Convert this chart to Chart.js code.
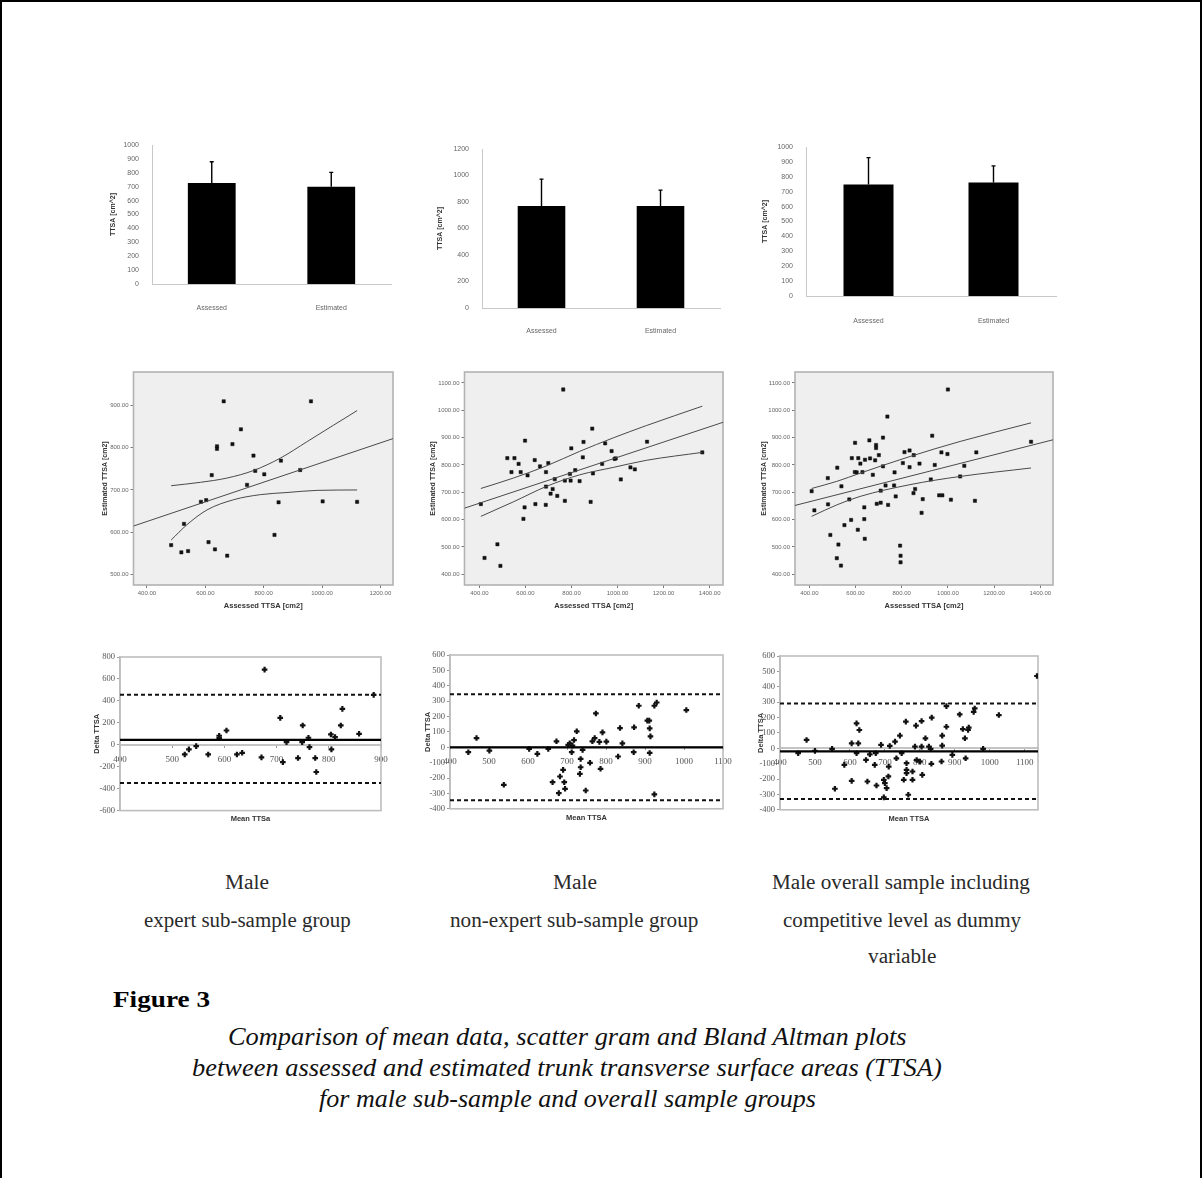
<!DOCTYPE html>
<html>
<head>
<meta charset="utf-8">
<title>Figure 3</title>
<script src="https://cdn.jsdelivr.net/npm/chart.js@4.4.1/dist/chart.umd.min.js"></script>
<style>
  body { margin: 0; background: #fff; width: 1203px; height: 1178px; overflow: hidden; position: relative; }
  #frame { position: absolute; left: 0; top: 0; width: 1198px; height: 1250px; border: 2px solid #000; }
  .panel { position: absolute; }
  .txt { position: absolute; white-space: nowrap; line-height: 24px; transform-origin: left center;
         font-family: "Liberation Serif", serif; color: #2a2a2a; font-size: 20px; }
  .fig { font-weight: bold; font-size: 23px; color: #000; }
  .cap { font-style: italic; font-size: 25px; color: #111; }
</style>
</head>
<body>
<div id="frame"></div>

<div class="txt" data-cx="247" data-w="44" style="top:870px">Male</div>
<div class="txt" data-cx="247.5" data-w="207" style="top:908px">expert sub-sample group</div>
<div class="txt" data-cx="575" data-w="44" style="top:870px">Male</div>
<div class="txt" data-cx="574" data-w="248" style="top:908px">non-expert sub-sample group</div>
<div class="txt" data-cx="901" data-w="258" style="top:870px">Male overall sample including</div>
<div class="txt" data-cx="902" data-w="238" style="top:908px">competitive level as dummy</div>
<div class="txt" data-cx="901.5" data-w="68" style="top:944px">variable</div>

<div class="txt fig" data-left="113" data-w="97" style="top:988px">Figure 3</div>
<div class="txt cap" data-cx="567" data-w="679" style="top:1025px">Comparison of mean data, scatter gram and Bland Altman plots</div>
<div class="txt cap" data-cx="567" data-w="750" style="top:1056px">between assessed and estimated trunk transverse surface areas (TTSA)</div>
<div class="txt cap" data-cx="567" data-w="497" style="top:1087px">for male sub-sample and overall sample groups</div>

<script>
// ---------- mean data (bar charts) ----------
const barLabels = ["Assessed", "Estimated"];
const expertMeans = [727, 700];
const expertSD = [153, 103];
const nonExpertMeans = [769, 769];
const nonExpertSD = [204, 121];
const overallMeans = [748, 761];
const overallSD = [181, 112];
const barTicks1000 = [0, 100, 200, 300, 400, 500, 600, 700, 800, 900, 1000];
const barTicks1200 = [0, 200, 400, 600, 800, 1000, 1200];

// ---------- scatter grams ----------
const expertAssessed = [663, 962, 722, 693, 640, 640, 765, 859, 622, 771, 802, 925, 743, 585, 603, 851, 1002, 1120, 527, 483, 518, 541, 611, 633, 675, 837];
const expertEstimated = [909, 909, 843, 808, 803, 797, 781, 769, 735, 745, 737, 747, 712, 672, 676, 671, 673, 672, 620, 570, 553, 556, 577, 560, 545, 594];
const expertFitX = [354, 1243];
const expertFitY = [615, 821];
const expertUpperX = [483, 583, 674, 766, 857, 949, 1040, 1120];
const expertUpperY = [710, 718, 728, 746, 775, 814, 853, 887];
const expertLowerX = [483, 537, 606, 697, 789, 880, 983, 1120];
const expertLowerY = [582, 618, 653, 677, 689, 694, 699, 700];

const nonExpertAssessed = [764, 890, 598, 852, 946, 799, 1128, 974, 1368, 521, 552, 640, 849, 570, 699, 933, 987, 992, 663, 539,
  579, 609, 689, 816, 793, 893, 1056, 1075, 1014, 727, 771, 796, 835, 689, 718, 709, 738, 406, 596, 643, 688, 771, 883, 591, 478, 422, 491];
const nonExpertEstimated = [1076, 933, 889, 884, 879, 861, 885, 851, 846, 825, 825, 818, 828, 804, 807, 804, 822, 824, 795, 774,
  774, 762, 774, 781, 767, 769, 791, 784, 747, 748, 743, 743, 741, 721, 712, 695, 687, 657, 645, 657, 654, 669, 665, 603, 510, 460, 431];
const nonExpertFitX = [335, 1458];
const nonExpertFitY = [642, 956];
const nonExpertBandX = [406, 547, 692, 836, 981, 1125, 1368];
const nonExpertUpperY = [714, 752, 797, 850, 899, 944, 1015];
const nonExpertLowerY = [612, 665, 722, 764, 791, 817, 846];

const overallAssessed = [1000, 738, 932, 719, 598, 660, 689, 689, 972, 998, 812, 834, 852, 1123, 1360, 584, 612, 641, 663, 685,
  701, 621, 805, 877, 943, 1071, 719, 834, 521, 597, 605, 630, 675, 769, 480, 1053, 926, 730, 767, 539,
  410, 709, 858, 851, 962, 976, 774, 573, 891, 1013, 1117, 481, 692, 709, 741, 638, 422, 886, 581, 638,
  552, 610, 491, 640, 526, 793, 519, 795, 795, 537];
const overallEstimated = [1076, 977, 907, 900, 881, 890, 873, 862, 846, 840, 847, 853, 836, 846, 885, 825, 825, 819, 824, 817,
  836, 805, 807, 805, 800, 797, 795, 792, 790, 774, 773, 774, 764, 773, 752, 758, 747, 725, 725, 722,
  704, 706, 712, 697, 689, 689, 685, 674, 675, 673, 669, 656, 658, 662, 654, 645, 634, 625, 599, 602,
  580, 563, 544, 530, 509, 505, 459, 468, 444, 432];
const overallFitX = [338, 1455];
const overallFitY = [652, 892];
const overallBandX = [410, 519, 620, 836, 1053, 1360];
const overallUpperY = [714, 740, 770, 831, 886, 954];
const overallLowerY = [612, 654, 685, 728, 758, 789];

const scatterTicksX1 = [400, 600, 800, 1000, 1200];
const scatterTicksY1 = [500, 600, 700, 800, 900];
const scatterTicksX2 = [400, 600, 800, 1000, 1200, 1400];
const scatterTicksY2 = [400, 500, 600, 700, 800, 900, 1000, 1100];

// ---------- Bland Altman ----------
const expertMeanTTSA = [677, 707, 826, 750, 823, 604, 590, 590, 804, 812, 858, 886, 719, 749, 761, 763, 805, 546, 532, 524,
  569, 624, 634, 671, 712, 741, 774, 776];
const expertDelta = [685, 245, 327, 176, 176, 130, 82, 61, 94, 70, 100, 455, 24, 24, 64, -21, -42, -12, -42, -88,
  -88, -88, -73, -115, -158, -121, -121, -248];
const expertLimits = [45, 455, -349]; // bias, upper, lower

const nonExpertMeanTTSA = [468, 447, 501, 538, 603, 624, 652, 673, 663, 679, 682, 690, 693, 695, 703, 707, 714, 718, 725, 712,
  735, 735, 733, 740, 748, 759, 765, 771, 774, 783, 786, 791, 801, 831, 836, 842, 872, 871, 884, 906,
  911, 912, 914, 912, 924, 930, 924, 1006];
const nonExpertDelta = [60, -32, -22, -244, -11, -43, -11, 39, -227, -298, -190, -147, -227, -270, 15, 26, 11, 47, 104, -32,
  -76, -130, -173, -17, -281, -101, 39, 60, 220, 35, -140, 97, 37, -60, 125, 26, 130, -32, 270, 173,
  173, 123, 71, -37, 270, 291, -306, 242];
const nonExpertLimits = [0, 345, -345];

const overallMeanTTSA = [1135, 476, 452, 500, 549, 557, 605, 624, 619, 627, 619, 584, 605, 650, 646, 657, 674, 671, 676, 689,
  697, 697, 700, 705, 710, 711, 714, 729, 733, 743, 748, 754, 760, 762, 762, 762, 767, 779, 779, 786,
  789, 791, 800, 805, 805, 807, 816, 826, 831, 833, 834, 862, 864, 864, 876, 876, 893, 914, 923, 929,
  931, 938, 940, 954, 957, 981, 1026];
const overallDelta = [470, 54, -32, -17, -4, -263, 32, 32, 162, 119, -32, -108, -212, -216, -76, -39, -32, -108, -242, 22,
  -319, -205, -227, -259, -183, -119, 15, 43, -65, 82, -32, -205, 173, -97, -140, -162, -302, -205, -151, 11,
  147, -76, -86, 177, 11, -173, 65, 11, -4, -101, 199, -86, 17, 82, 140, 274, -43, 220, 125, 65,
  -65, 119, 134, 237, 259, -4, 216];
const overallLimits = [-20, 291, -330];

const baTicksX1 = [400, 500, 600, 700, 800, 900];
const baTicksX2 = [400, 500, 600, 700, 800, 900, 1000, 1100];
const baTicksY1 = [-600, -400, -200, 0, 200, 400, 600, 800];
const baTicksY2 = [-400, -300, -200, -100, 0, 100, 200, 300, 400, 500, 600];

Chart.defaults.font.family = "'Liberation Sans', Arial, sans-serif";
Chart.defaults.animation = false;

const PAD = 30;

// make a canvas so that the chart area lands on [left, top, right, bottom]
function makeCanvas(area, yw, xh) {
  const box = document.createElement("div");
  box.className = "panel";
  const w = Math.round(area[2] - area[0] + yw + 2 * PAD);
  const h = Math.round(area[3] - area[1] + xh + 2 * PAD);
  box.style.left = (area[0] - yw - PAD) + "px";
  box.style.top = (area[1] - PAD) + "px";
  const canvas = document.createElement("canvas");
  canvas.width = w;
  canvas.height = h;
  box.appendChild(canvas);
  document.body.appendChild(box);
  return canvas;
}

const zip = (xs, ys) => xs.map((x, i) => ({ x: x, y: ys[i] }));
const fixedTicks = list => scale => { scale.ticks = list.map(v => ({ value: v })); };
const plain = v => String(v);

// plot area fill + frame
const plotFrame = {
  id: "plotFrame",
  beforeDatasetsDraw(chart, args, opts) {
    const a = chart.chartArea, ctx = chart.ctx;
    ctx.save();
    if (opts.fill) {
      ctx.fillStyle = opts.fill;
      ctx.fillRect(a.left, a.top, a.width, a.height);
    }
    if (opts.stroke) {
      ctx.strokeStyle = opts.stroke;
      ctx.lineWidth = opts.width || 1.5;
      ctx.strokeRect(a.left, a.top, a.width, a.height);
    }
    ctx.restore();
  }
};

// SD whiskers on top of the bars
const errorBars = {
  id: "errorBars",
  afterDatasetsDraw(chart, args, opts) {
    const meta = chart.getDatasetMeta(0);
    const y = chart.scales.y;
    const ctx = chart.ctx;
    ctx.save();
    ctx.strokeStyle = "#000";
    ctx.lineWidth = 1.4;
    meta.data.forEach((bar, i) => {
      const top = y.getPixelForValue(chart.data.datasets[0].data[i] + opts.sd[i]);
      ctx.beginPath();
      ctx.moveTo(bar.x, bar.y);
      ctx.lineTo(bar.x, top);
      ctx.moveTo(bar.x - 2, top);
      ctx.lineTo(bar.x + 2, top);
      ctx.stroke();
    });
    ctx.restore();
  }
};

function barChart(area, yw, means, sd, ticks, labelPad) {
  const max = ticks[ticks.length - 1];
  new Chart(makeCanvas(area, yw, 30), {
    type: "bar",
    data: {
      labels: barLabels,
      datasets: [{ data: means, backgroundColor: "#000", categoryPercentage: 1, barPercentage: 0.4 }]
    },
    options: {
      responsive: false,
      layout: { padding: PAD },
      plugins: { legend: { display: false }, tooltip: { enabled: false }, errorBars: { sd: sd } },
      scales: {
        x: {
          grid: { display: false },
          border: { color: "#c8c8c8", width: 1 },
          ticks: { color: "#666", font: { size: 7 }, padding: labelPad },
          afterFit: s => { s.height = 30; }
        },
        y: {
          min: 0, max: max,
          afterBuildTicks: fixedTicks(ticks),
          grid: { display: false },
          border: { color: "#c8c8c8", width: 1 },
          ticks: { color: "#666", font: { size: 7 }, padding: 5, callback: plain },
          title: { display: true, text: "TTSA [cm^2]", color: "#333", font: { size: 7, weight: "bold" }, padding: 0 },
          afterFit: s => { s.width = yw; }
        }
      }
    },
    plugins: [errorBars]
  });
}

function scatterChart(area, yw, pts, fit, upper, lower, xr, yr, xTicks, yTicks) {
  const lineStyle = { type: "line", borderColor: "#4a4a4a", borderWidth: 1, pointRadius: 0, fill: false, cubicInterpolationMode: "monotone" };
  new Chart(makeCanvas(area, yw, 25), {
    type: "scatter",
    data: {
      datasets: [
        Object.assign({ data: fit }, lineStyle),
        Object.assign({ data: upper }, lineStyle),
        Object.assign({ data: lower }, lineStyle),
        { data: pts, pointStyle: "rect", pointRadius: 2.3, backgroundColor: "#111", borderColor: "#111", borderWidth: 0.5 }
      ]
    },
    options: {
      responsive: false,
      layout: { padding: PAD },
      plugins: { legend: { display: false }, tooltip: { enabled: false }, plotFrame: { fill: "#efefef", stroke: "#b2b2b2", width: 1.6 } },
      scales: {
        x: {
          type: "linear", min: xr[0], max: xr[1],
          afterBuildTicks: fixedTicks(xTicks),
          grid: { drawOnChartArea: false, tickLength: 3, color: "#777" },
          border: { display: false },
          ticks: { color: "#666", font: { size: 6 }, padding: 2, maxRotation: 0, autoSkip: false, callback: v => v.toFixed(2) },
          title: { display: true, text: "Assessed TTSA [cm2]", color: "#333", font: { size: 7.5, weight: "bold" }, padding: 0 },
          afterFit: s => { s.height = 25; }
        },
        y: {
          type: "linear", min: yr[0], max: yr[1],
          afterBuildTicks: fixedTicks(yTicks),
          grid: { drawOnChartArea: false, tickLength: 3, color: "#777" },
          border: { display: false },
          ticks: { color: "#666", font: { size: 6 }, padding: 2, callback: v => v.toFixed(2) },
          title: { display: true, text: "Estimated TTSA [cm2]", color: "#333", font: { size: 7, weight: "bold" }, padding: 0 },
          afterFit: s => { s.width = yw; }
        }
      }
    },
    plugins: [plotFrame]
  });
}

function blandAltman(area, yw, xh, means, deltas, limits, xr, yr, xTicks, yTicks, xTitle) {
  const flat = v => [{ x: xr[0], y: v }, { x: xr[1], y: v }];
  const serif = "'Liberation Serif', 'Times New Roman', serif";
  new Chart(makeCanvas(area, yw, xh), {
    type: "scatter",
    data: {
      datasets: [
        { type: "line", data: flat(limits[1]), borderColor: "#111", borderWidth: 2, borderDash: [4, 3], pointRadius: 0 },
        { type: "line", data: flat(limits[2]), borderColor: "#111", borderWidth: 2, borderDash: [4, 3], pointRadius: 0 },
        { type: "line", data: flat(limits[0]), borderColor: "#000", borderWidth: 2.2, pointRadius: 0 },
        { data: zip(means, deltas), pointStyle: "cross", pointRadius: 2.8, borderColor: "#111", borderWidth: 2.2 }
      ]
    },
    options: {
      responsive: false,
      layout: { padding: PAD },
      plugins: { legend: { display: false }, tooltip: { enabled: false }, plotFrame: { stroke: "#bdbdbd", width: 1.6 } },
      scales: {
        x: {
          type: "linear", min: xr[0], max: xr[1], position: { y: 0 },
          afterBuildTicks: fixedTicks(xTicks),
          grid: { drawOnChartArea: false, tickLength: 2, color: "#999" },
          border: { color: "#c4c4c4", width: 2 },
          ticks: { color: "#555", font: { family: serif, size: 9 }, padding: 7, maxRotation: 0, autoSkip: false, callback: plain }
        },
        x2: {
          type: "linear", position: "bottom",
          grid: { display: false }, border: { display: false }, ticks: { display: false },
          title: { display: true, text: xTitle, color: "#333", font: { size: 7.5, weight: "bold" }, padding: 0 },
          afterFit: s => { s.height = xh; }
        },
        y: {
          type: "linear", min: yr[0], max: yr[1],
          afterBuildTicks: fixedTicks(yTicks),
          grid: { drawOnChartArea: false, tickLength: 3, color: "#999" },
          border: { color: "#bdbdbd", width: 1.6 },
          ticks: { color: "#555", font: { family: serif, size: 8.5 }, padding: 2, callback: plain },
          title: { display: true, text: "Delta TTSA", color: "#333", font: { size: 7.5, weight: "bold" }, padding: 0 },
          afterFit: s => { s.width = yw; }
        }
      }
    },
    plugins: [plotFrame]
  });
}

// row 1: mean data
barChart([151.75, 145, 390.75, 284], 43, expertMeans, expertSD, barTicks1000, 12);
barChart([481.5, 149, 719.5, 307.7], 46, nonExpertMeans, nonExpertSD, barTicks1200, 11);
barChart([805.5, 146.7, 1055.5, 295.7], 45, overallMeans, overallSD, barTicks1000, 13);

// row 2: scatter grams with regression line and confidence band
scatterChart([133.3, 372.3, 392.7, 585], 32.5, zip(expertAssessed, expertEstimated), zip(expertFitX, expertFitY),
  zip(expertUpperX, expertUpperY), zip(expertLowerX, expertLowerY), [354, 1243], [476, 978], scatterTicksX1, scatterTicksY1);
scatterChart([464.3, 372.3, 723.3, 585], 35.5, zip(nonExpertAssessed, nonExpertEstimated), zip(nonExpertFitX, nonExpertFitY),
  zip(nonExpertBandX, nonExpertUpperY), zip(nonExpertBandX, nonExpertLowerY), [335, 1458], [361, 1140], scatterTicksX2, scatterTicksY2);
scatterChart([795, 372.3, 1052.7, 585.7], 35, zip(overallAssessed, overallEstimated), zip(overallFitX, overallFitY),
  zip(overallBandX, overallUpperY), zip(overallBandX, overallLowerY), [338, 1455], [361, 1140], scatterTicksX2, scatterTicksY2);

// row 3: Bland Altman plots
blandAltman([120, 656.7, 381, 810.7], 28, 12.4, expertMeanTTSA, expertDelta, expertLimits, [400, 900], [-600, 800], baTicksX1, baTicksY1, "Mean TTSa");
blandAltman([450, 655, 723.3, 809.3], 27, 13.2, nonExpertMeanTTSA, nonExpertDelta, nonExpertLimits, [400, 1100], [-400, 600], baTicksX2, baTicksY2, "Mean TTSA");
blandAltman([780, 655.7, 1038.3, 809.3], 24, 13.2, overallMeanTTSA, overallDelta, overallLimits, [400, 1138], [-400, 600], baTicksX2, baTicksY2, "Mean TTSA");

// squeeze/stretch the text lines to the widths of the original figure
document.querySelectorAll(".txt").forEach(el => {
  const target = parseFloat(el.dataset.w);
  const natural = el.offsetWidth;
  el.style.transform = "scaleX(" + (target / natural) + ")";
  const left = el.dataset.left ? parseFloat(el.dataset.left) : parseFloat(el.dataset.cx) - target / 2;
  el.style.left = left + "px";
});
</script>
</body>
</html>
